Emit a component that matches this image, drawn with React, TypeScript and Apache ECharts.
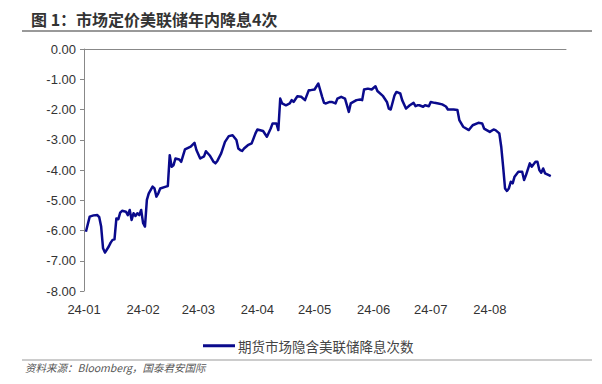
import React, { useEffect, useRef } from "react";
import * as echarts from "echarts";

const titleText = "图 1：市场定价美联储年内降息4次";
const sourceText = "资料来源：Bloomberg，国泰君安国际";
const seriesName = "期货市场隐含美联储降息次数";

const axisStart = "2024-01-01";
const axisEnd = "2024-09-10";
const lastLabelMonth = "2024-08";

const dates = [
  "2024-01-02", "2024-01-04", "2024-01-06", "2024-01-08", "2024-01-09", "2024-01-10", "2024-01-11", "2024-01-12",
  "2024-01-14", "2024-01-15", "2024-01-16", "2024-01-17", "2024-01-18", "2024-01-19", "2024-01-20", "2024-01-21",
  "2024-01-23", "2024-01-24", "2024-01-25", "2024-01-26", "2024-01-27", "2024-01-28", "2024-01-29", "2024-01-30",
  "2024-01-31", "2024-02-01", "2024-02-02", "2024-02-03", "2024-02-04", "2024-02-06", "2024-02-07", "2024-02-08",
  "2024-02-09", "2024-02-10", "2024-02-13", "2024-02-14", "2024-02-15", "2024-02-16", "2024-02-17", "2024-02-18",
  "2024-02-20", "2024-02-21", "2024-02-23", "2024-02-26", "2024-02-28", "2024-02-29", "2024-03-02", "2024-03-04",
  "2024-03-05", "2024-03-07", "2024-03-09", "2024-03-10", "2024-03-11", "2024-03-13", "2024-03-15", "2024-03-17",
  "2024-03-19", "2024-03-21", "2024-03-22", "2024-03-23", "2024-03-24", "2024-03-25", "2024-03-27", "2024-03-29",
  "2024-03-31", "2024-04-01", "2024-04-04", "2024-04-06", "2024-04-08", "2024-04-09", "2024-04-11", "2024-04-12",
  "2024-04-13", "2024-04-14", "2024-04-16", "2024-04-18", "2024-04-19", "2024-04-20", "2024-04-22", "2024-04-24",
  "2024-04-26", "2024-04-28", "2024-04-29", "2024-05-01", "2024-05-03", "2024-05-05", "2024-05-06", "2024-05-07",
  "2024-05-09", "2024-05-10", "2024-05-12", "2024-05-13", "2024-05-15", "2024-05-17", "2024-05-19", "2024-05-20",
  "2024-05-23", "2024-05-25", "2024-05-26", "2024-05-27", "2024-05-29", "2024-05-31", "2024-06-02", "2024-06-03",
  "2024-06-06", "2024-06-08", "2024-06-09", "2024-06-10", "2024-06-12", "2024-06-13", "2024-06-15", "2024-06-16",
  "2024-06-18", "2024-06-20", "2024-06-22", "2024-06-23", "2024-06-24", "2024-06-25", "2024-06-27", "2024-06-28",
  "2024-06-30", "2024-07-01", "2024-07-03", "2024-07-05", "2024-07-07", "2024-07-09", "2024-07-10", "2024-07-13",
  "2024-07-15", "2024-07-16", "2024-07-18", "2024-07-21", "2024-07-23", "2024-07-26", "2024-07-28", "2024-07-29",
  "2024-08-01", "2024-08-03", "2024-08-04", "2024-08-06", "2024-08-07", "2024-08-08", "2024-08-09", "2024-08-10",
  "2024-08-11", "2024-08-12", "2024-08-13", "2024-08-14", "2024-08-16", "2024-08-18", "2024-08-19", "2024-08-20",
  "2024-08-22", "2024-08-23", "2024-08-25", "2024-08-26", "2024-08-27", "2024-08-28", "2024-08-29", "2024-08-30",
  "2024-09-01", "2024-09-02",
];

const values = [
  -6.04, -5.54, -5.5, -5.49, -5.56, -5.87, -6.59, -6.73,
  -6.53, -6.4, -6.31, -6.29, -5.6, -5.63, -5.41, -5.35,
  -5.38, -5.49, -5.32, -5.65, -5.43, -5.52, -5.43, -5.49,
  -5.32, -5.75, -5.87, -4.99, -4.77, -4.55, -4.61, -4.88,
  -4.77, -4.61, -4.55, -4.53, -3.51, -3.89, -3.84, -3.62,
  -3.65, -3.73, -3.32, -3.23, -3.1, -3.34, -3.62, -3.55,
  -3.38, -3.52, -3.73, -3.78, -3.7, -3.45, -3.07, -2.88,
  -2.85, -3.01, -3.29, -3.34, -3.37, -3.29, -3.18, -3.12,
  -2.79, -2.66, -2.71, -2.9, -2.63, -2.46, -2.46, -2.68,
  -1.64, -1.8, -1.86, -1.8, -1.69, -1.75, -1.56, -1.58,
  -1.69, -1.36, -1.36, -1.34, -1.14, -1.58, -1.78, -1.8,
  -1.75, -1.75, -1.8, -1.64, -1.58, -1.64, -2.08, -1.8,
  -1.69, -1.67, -1.69, -1.34, -1.31, -1.34, -1.23, -1.39,
  -1.56, -1.75, -1.97, -2.0, -1.53, -1.42, -1.47, -1.69,
  -1.97, -1.86, -1.78, -1.89, -1.86, -1.86, -1.91, -1.86,
  -1.89, -1.75, -1.78, -1.8, -1.83, -1.9, -2.0, -2.0,
  -2.02, -2.35, -2.57, -2.68, -2.52, -2.44, -2.46, -2.63,
  -2.74, -2.66, -2.68, -2.79, -3.23, -3.89, -4.61, -4.69,
  -4.61, -4.39, -4.44, -4.22, -4.06, -4.06, -4.33, -4.17,
  -3.78, -3.89, -3.73, -3.73, -4.0, -4.09, -3.95, -4.11,
  -4.17, -4.2,
];

function buildDays(start: string, end: string): string[] {
  const out: string[] = [];
  const s = Date.parse(start + "T00:00:00Z");
  const e = Date.parse(end + "T00:00:00Z");
  for (let t = s; t <= e; t += 86400000) {
    out.push(new Date(t).toISOString().slice(0, 10));
  }
  return out;
}

export default function App() {
  const ref = useRef<HTMLDivElement>(null);
  useEffect(() => {
    if (!ref.current) return;
    const chart = echarts.init(ref.current, null, { renderer: "svg" });
    const days = buildDays(axisStart, axisEnd);
    const map: Record<string, number> = {};
    dates.forEach((d, i) => (map[d] = values[i]));
    const seriesData = days.map((d) => (d in map ? map[d] : null));
    const fontLatin = "Liberation Sans, Arial, sans-serif";
    const fontCJK = "Noto Sans CJK SC, sans-serif";

    chart.setOption({
      animation: false,
      backgroundColor: "#ffffff",
      title: {
        text: titleText,
        left: 26,
        top: 6,
        textStyle: { fontSize: 16, fontWeight: "bold", color: "#333333", fontFamily: fontCJK },
      },
      grid: { left: 84, right: 36, top: 49, bottom: 93 },
      legend: {
        left: 198,
        top: 334,
        icon: "rect",
        itemWidth: 32,
        itemHeight: 3,
        itemGap: 10,
        data: [seriesName],
        textStyle: { fontSize: 13.5, color: "#444444", fontFamily: fontCJK, padding: [0, 0, 0, -2] },
      },
      xAxis: [
        {
          type: "category",
          data: days,
          boundaryGap: false,
          position: "bottom",
          axisLine: { show: false, onZero: false },
          axisTick: { show: false },
          splitLine: { show: false },
          axisLabel: {
            interval: (_i: number, v: string) => v.slice(8, 10) === "01" && v.slice(0, 7) <= lastLabelMonth,
            formatter: (v: string) => v.slice(2, 7),
            fontSize: 13,
            color: "#333333",
            fontFamily: fontLatin,
            margin: 12,
          },
        },
        {
          type: "category",
          data: days,
          boundaryGap: false,
          position: "top",
          axisLine: { show: true, onZero: false, lineStyle: { color: "#888888", width: 1 } },
          axisTick: { show: false },
          axisLabel: { show: false },
          splitLine: { show: false },
        },
      ],
      yAxis: {
        type: "value",
        min: -8,
        max: 0,
        interval: 1,
        axisLine: { show: true, lineStyle: { color: "#888888", width: 1 } },
        axisTick: { show: true, length: 4, lineStyle: { color: "#888888" } },
        splitLine: { show: false },
        axisLabel: {
          formatter: (v: number) => (v === 0 ? "0.00" : v.toFixed(2)),
          fontSize: 13,
          color: "#333333",
          fontFamily: fontLatin,
          margin: 8,
        },
      },
      series: [
        {
          name: seriesName,
          type: "line",
          xAxisIndex: 0,
          data: seriesData,
          connectNulls: true,
          showSymbol: false,
          symbol: "none",
          lineStyle: { color: "#0a0a8c", width: 2.5, join: "round" },
          itemStyle: { color: "#0a0a8c" },
        },
      ],
      graphic: [
        {
          type: "line",
          shape: { x1: 22, y1: 31, x2: 592, y2: 31 },
          style: { stroke: "#777777", lineWidth: 1.5 },
        },
        {
          type: "line",
          shape: { x1: 22, y1: 360, x2: 592, y2: 360 },
          style: { stroke: "#999999", lineWidth: 1 },
        },
        {
          type: "text",
          x: 25,
          y: 367,
          style: {
            text: sourceText,
            fontSize: 10.5,
            fontStyle: "italic",
            fill: "#555555",
            fontFamily: fontCJK,
            verticalAlign: "middle",
          },
        },
      ],
    });
    return () => chart.dispose();
  }, []);

  return <div ref={ref} style={{ width: 602, height: 384, position: "absolute", left: 0, top: 0 }} />;
}
